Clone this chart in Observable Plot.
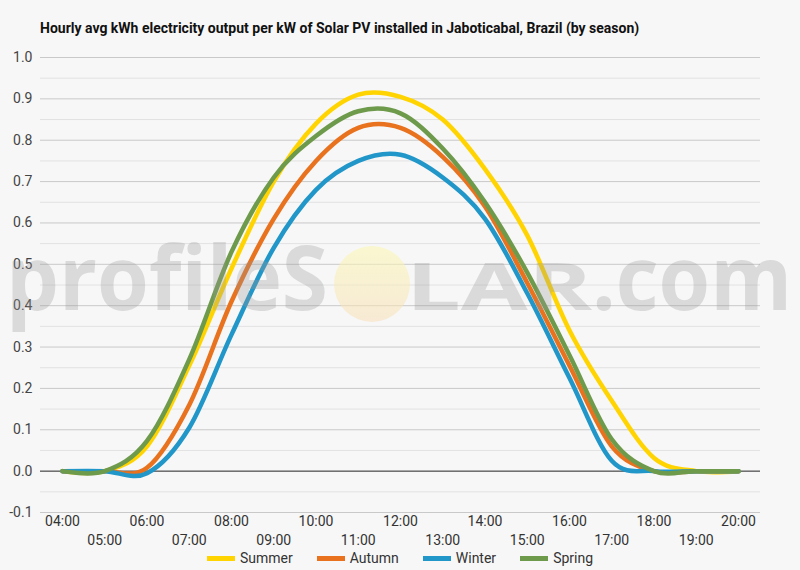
<!DOCTYPE html>
<html>
<head>
<meta charset="utf-8">
<script src="https://cdn.jsdelivr.net/npm/d3@7"></script>
<script src="https://cdn.jsdelivr.net/npm/@observablehq/plot@0.6"></script>
<style>
  html, body { margin: 0; padding: 0; background: #f7f7f7; }
  #wrap { position: relative; width: 800px; height: 570px; overflow: hidden; font-family: Roboto, sans-serif; }
  #title { height: 45px; box-sizing: border-box; padding: 19px 0 0 40px; font-size: 14px; line-height: 18px; font-weight: bold; color: #111; }
  #legend { display: flex; justify-content: center; gap: 0; height: 20px; align-items: center; font-size: 14px; color: #333; margin-top: -2px; }
  .item { display: flex; align-items: center; margin: 0 12px; }
  .sw { width: 28px; height: 5px; margin-right: 5px; }
  #wm { position: absolute; left: 0; top: 0; pointer-events: none; }
</style>
</head>
<body>
<div id="wrap">
  <div id="title">Hourly avg kWh electricity output per kW of Solar PV installed in Jaboticabal, Brazil (by season)</div>
  <div id="chart"></div>
  <div id="legend"></div>
</div>
<script>
const hours  = [4, 5, 6, 7, 8, 9, 10, 11, 12, 13, 14, 15, 16, 17, 18, 19, 20];
const summer = [0, 0, 0.06, 0.255, 0.49, 0.70, 0.84, 0.91, 0.905, 0.85, 0.73, 0.57, 0.34, 0.17, 0.032, 0, 0];
const autumn = [0, 0, 0.008, 0.16, 0.41, 0.61, 0.75, 0.83, 0.83, 0.76, 0.64, 0.455, 0.255, 0.06, 0, 0, 0];
const winter = [0, 0, -0.005, 0.105, 0.33, 0.54, 0.68, 0.75, 0.765, 0.71, 0.61, 0.43, 0.225, 0.025, 0, 0, 0];
const spring = [0, 0, 0.073, 0.27, 0.53, 0.71, 0.81, 0.87, 0.865, 0.78, 0.65, 0.48, 0.28, 0.077, 0, 0, 0];

const seasons = ["Summer", "Autumn", "Winter", "Spring"];
const colors  = ["#ffd400", "#e8721e", "#2196c8", "#6e9a4c"];
const seriesValues = [summer, autumn, winter, spring];

const yMajor = [-0.1, 0, 0.1, 0.2, 0.3, 0.4, 0.5, 0.6, 0.7, 0.8, 0.9, 1.0];
const yMinor = [-0.05, 0.05, 0.15, 0.25, 0.35, 0.45, 0.55, 0.65, 0.75, 0.85, 0.95];
const xEven = [4, 6, 8, 10, 12, 14, 16, 18, 20];
const xOdd  = [5, 7, 9, 11, 13, 15, 17, 19];

const rows = [];
seasons.forEach((s, i) => hours.forEach((h, j) => rows.push({season: s, hour: h, value: seriesValues[i][j]})));

const fmtH = d => String(d).padStart(2, "0") + ":00";

const chart = Plot.plot({
  width: 800,
  height: 505,
  marginTop: 12,
  marginBottom: 38,
  marginLeft: 40,
  marginRight: 40,
  style: {background: "transparent", fontFamily: "Roboto, sans-serif", fontSize: "14px", color: "#444"},
  x: {domain: [4, 20], inset: 22},
  y: {domain: [-0.1, 1.0]},
  color: {domain: seasons, range: colors},
  marks: [
    Plot.ruleY(yMinor, {stroke: "#e2e2e2", strokeWidth: 1}),
    Plot.ruleY(yMajor.filter(d => d !== 0), {stroke: "#c9c9c9", strokeWidth: 1}),
    Plot.ruleY([0], {stroke: "#222", strokeWidth: 1}),
    Plot.axisY({ticks: yMajor, tickFormat: d => d.toFixed(1), tickSize: 0, tickPadding: 8, label: null, fill: "#444"}),
    Plot.axisX({ticks: xEven, tickFormat: fmtH, tickSize: 0, tickPadding: 4, label: null, fill: "#333"}),
    Plot.axisX({ticks: xOdd, tickFormat: fmtH, tickSize: 0, tickPadding: 23, label: null, fill: "#333"}),
    Plot.line(rows, {x: "hour", y: "value", z: "season", stroke: "season", strokeWidth: 4.5, curve: "cardinal"})
  ]
});
document.getElementById("chart").appendChild(chart);

const legend = document.getElementById("legend");
seasons.forEach((s, i) => {
  const it = document.createElement("div");
  it.className = "item";
  it.innerHTML = `<div class="sw" style="background:${colors[i]}"></div><span>${s}</span>`;
  legend.appendChild(it);
});

// watermark overlay
const ns = "http://www.w3.org/2000/svg";
const wm = document.createElementNS(ns, "svg");
wm.setAttribute("id", "wm");
wm.setAttribute("width", 800);
wm.setAttribute("height", 570);
wm.innerHTML = `
  <defs>
    <linearGradient id="sun" x1="0" y1="0" x2="0" y2="1">
      <stop offset="0" stop-color="#fbf7b0"/>
      <stop offset="1" stop-color="#f8dfb8"/>
    </linearGradient>
  </defs>
  <circle cx="372" cy="284" r="38" fill="url(#sun)" opacity="0.55"/>
  <g fill="#999" opacity="0.3" font-family="'Open Sans', sans-serif" font-weight="700">
    <text x="6" y="310" font-size="90" textLength="322" lengthAdjust="spacingAndGlyphs">profileS</text>
    <text x="406" y="310" font-size="67" textLength="186" lengthAdjust="spacingAndGlyphs">LAR</text>
    <text x="592" y="310" font-size="90" textLength="200" lengthAdjust="spacingAndGlyphs">.com</text>
  </g>`;
document.getElementById("wrap").appendChild(wm);
</script>
</body>
</html>
